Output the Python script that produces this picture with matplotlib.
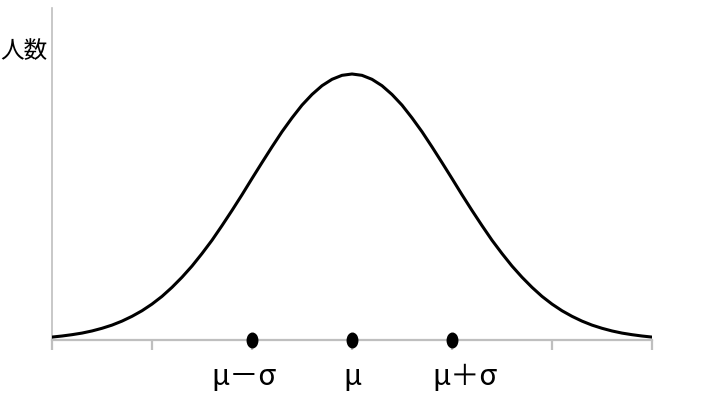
import matplotlib
matplotlib.use('Agg')
from matplotlib import pyplot as plt
from matplotlib.path import Path
from matplotlib.transforms import Affine2D

# curve positions in units of sigma, heights relative to the peak
xSigma = [-3.0, -2.9, -2.8, -2.7, -2.6, -2.5, -2.4, -2.3, -2.2, -2.1,
          -2.0, -1.9, -1.8, -1.7, -1.6, -1.5, -1.4, -1.3, -1.2, -1.1,
          -1.0, -0.9, -0.8, -0.7, -0.6, -0.5, -0.4, -0.3, -0.2, -0.1,
          0.0, 0.1, 0.2, 0.3, 0.4, 0.5, 0.6, 0.7, 0.8, 0.9,
          1.0, 1.1, 1.2, 1.3, 1.4, 1.5, 1.6, 1.7, 1.8, 1.9,
          2.0, 2.1, 2.2, 2.3, 2.4, 2.5, 2.6, 2.7, 2.8, 2.9, 3.0]
people = [1.1, 1.5, 2.0, 2.6, 3.4, 4.4, 5.6, 7.1, 8.9, 11.0,
          13.5, 16.4, 19.8, 23.6, 27.8, 32.5, 37.5, 43.0, 48.7, 54.6,
          60.7, 66.7, 72.6, 78.3, 83.5, 88.3, 92.3, 95.6, 98.0, 99.5,
          100.0, 99.5, 98.0, 95.6, 92.3, 88.3, 83.5, 78.3, 72.6, 66.7,
          60.7, 54.6, 48.7, 43.0, 37.5, 32.5, 27.8, 23.6, 19.8, 16.4,
          13.5, 11.0, 8.9, 7.1, 5.6, 4.4, 3.4, 2.6, 2.0, 1.5, 1.1]

dotX = [-1, 0, 1]
dotLabels = ['μ－σ', 'μ', 'μ＋σ']
labelX = [-1.08, 0.0, 1.13]
tickX = [-3, -2, -1, 0, 1, 2, 3]

fonts = ['Noto Sans CJK JP', 'DejaVu Sans']
grey = '#bfbfbf'

fig = plt.figure(figsize=(7.02, 4.0), dpi=100)
ax = fig.add_axes([52 / 702, 60 / 400, 600 / 702, 332 / 400])

ax.plot(xSigma, people, color='black', linewidth=2.2, solid_capstyle='round', zorder=3)

# slightly tall ellipse dots sitting on the axis
ellipse = Path.unit_circle().transformed(Affine2D().scale(0.72, 1.0))
ax.plot(dotX, [0] * len(dotX), linestyle='none', marker=ellipse, markersize=10.5,
        color='black', clip_on=False, zorder=4)

ax.set_xlim(-3, 3)
ax.set_ylim(0, 100 * 332 / 266)

for side in ['top', 'right']:
    ax.spines[side].set_visible(False)
ax.spines['left'].set_color(grey)
ax.spines['bottom'].set_color(grey)
ax.spines['left'].set_linewidth(1.2)
ax.spines['bottom'].set_linewidth(1.6)

ax.set_xticks(tickX)
ax.set_xticklabels([])
ax.tick_params(axis='x', direction='out', length=7, width=1.6, color=grey)
ax.set_yticks([])

for x, lab in zip(labelX, dotLabels):
    ax.text(x, -0.11, lab, transform=ax.get_xaxis_transform(), ha='center', va='center',
            fontsize=21, family=fonts, color='black')

fig.text(47 / 702, 1 - 52 / 400, '人数', ha='right', va='center', fontsize=17,
         family=fonts, color='black')

fig.savefig('out.png', dpi=100)
